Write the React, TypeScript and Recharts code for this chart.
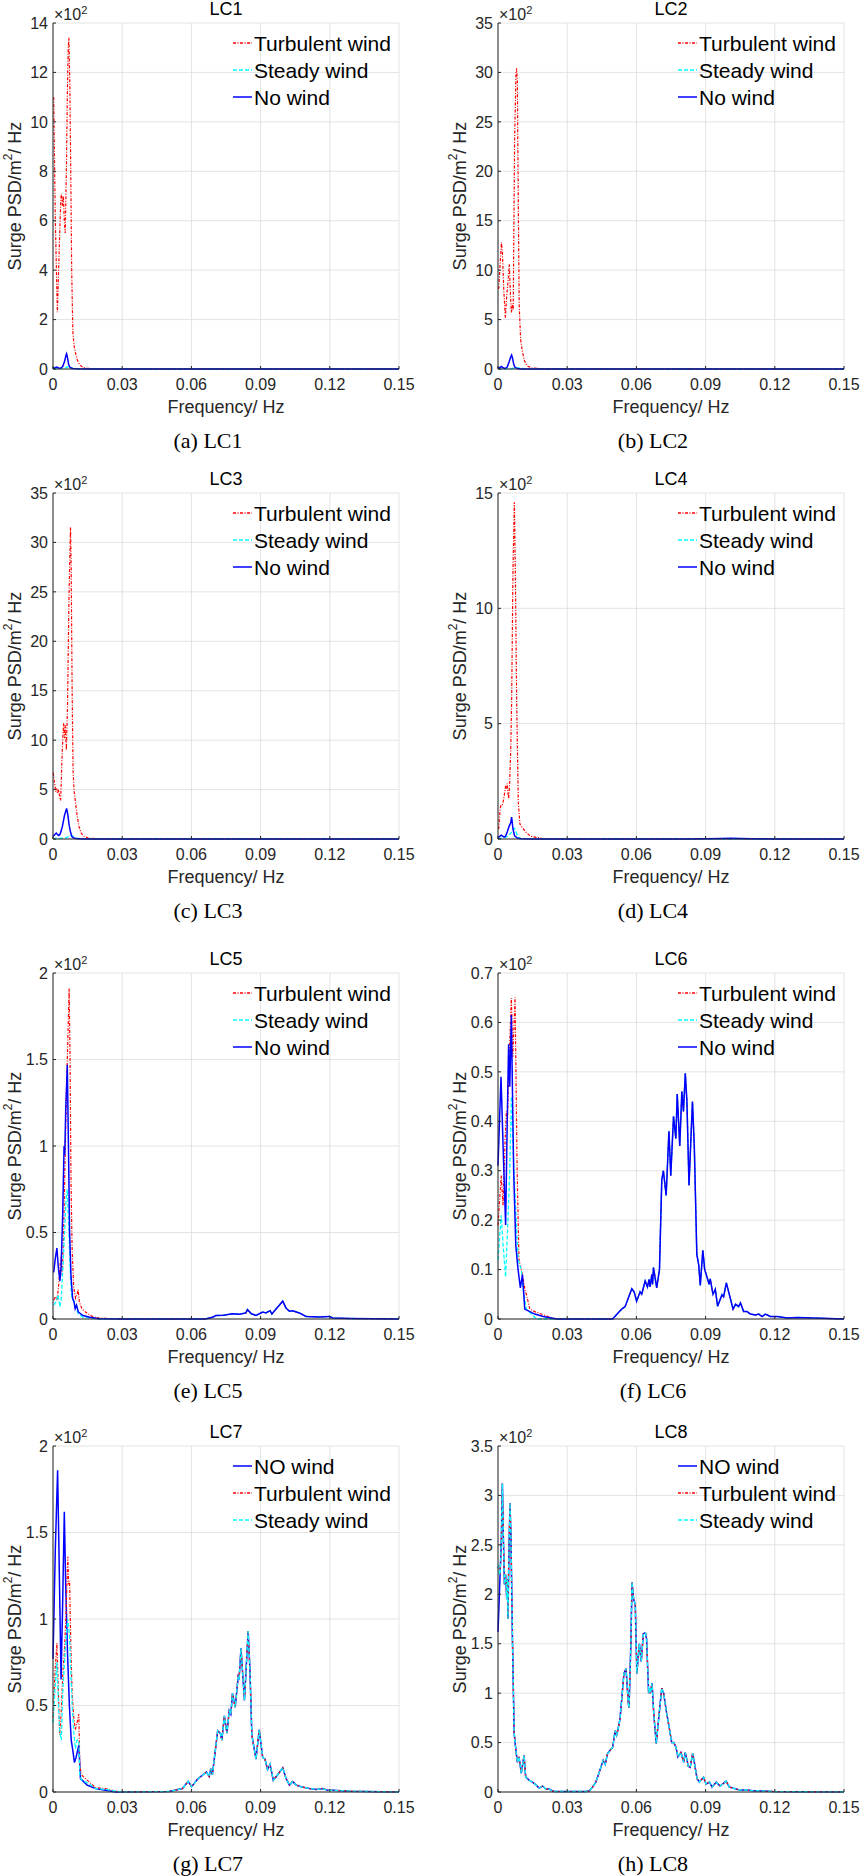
import React from "react";
import { LineChart, Line, XAxis, YAxis, CartesianGrid, Label, Legend } from "recharts";

type Pt = [number, number];

// frequency (Hz), PSD (x10^2 m^2/Hz)
const lc1Turbulent: Pt[] = [[0.0003, 11.0], [0.001, 6.0], [0.0019, 2.3], [0.0029, 5.5], [0.0034, 6.9], [0.0037, 7.1], [0.0041, 6.6], [0.0045, 7.0], [0.0049, 6.0], [0.0053, 5.5], [0.0058, 8.0], [0.0062, 11.0], [0.0066, 13.0], [0.0069, 13.4], [0.0073, 11.5], [0.0077, 8.0], [0.0081, 4.0], [0.0086, 1.5], [0.0092, 0.9], [0.0099, 0.6], [0.0106, 0.35], [0.0115, 0.18], [0.0127, 0.08], [0.0145, 0.03], [0.018, 0.01], [0.03, 0], [0.15, 0]];
const lc1Steady: Pt[] = [[0, 0.01], [0.002, 0.02], [0.004, 0.03], [0.0055, 0.06], [0.0065, 0.1], [0.0072, 0.06], [0.008, 0.03], [0.01, 0.01], [0.015, 0], [0.15, 0]];
const lc1NoWind: Pt[] = [[0, 0.03], [0.0008, 0.05], [0.0016, 0.08], [0.0024, 0.04], [0.0032, 0.03], [0.0042, 0.1], [0.005, 0.3], [0.0056, 0.55], [0.0059, 0.62], [0.0063, 0.45], [0.0068, 0.18], [0.0074, 0.06], [0.0085, 0.02], [0.01, 0.01], [0.015, 0], [0.15, 0]];

const lc2Turbulent: Pt[] = [[0.0003, 8.1], [0.0009, 10.5], [0.0015, 12.8], [0.0019, 11.8], [0.0025, 8.0], [0.0032, 5.2], [0.0038, 7.5], [0.0044, 9.0], [0.0049, 10.6], [0.0054, 7.5], [0.0058, 5.7], [0.0062, 6.5], [0.0066, 6.0], [0.0072, 23], [0.0078, 30], [0.0081, 30.4], [0.0084, 29], [0.0088, 17], [0.0092, 6.4], [0.0098, 3.0], [0.0105, 1.85], [0.0115, 0.8], [0.0127, 0.3], [0.0149, 0.1], [0.02, 0.02], [0.03, 0], [0.15, 0]];
const lc2Steady: Pt[] = [[0, 0.02], [0.003, 0.02], [0.006, 0.05], [0.0085, 0.12], [0.0095, 0.08], [0.011, 0.03], [0.015, 0], [0.15, 0]];
const lc2NoWind: Pt[] = [[0, 0.1], [0.0008, 0.15], [0.0015, 0.25], [0.0022, 0.12], [0.003, 0.05], [0.004, 0.2], [0.0048, 0.7], [0.0055, 1.2], [0.0059, 1.4], [0.0063, 1.1], [0.0068, 0.5], [0.0074, 0.15], [0.0085, 0.04], [0.01, 0.01], [0.015, 0], [0.15, 0]];

const lc3Turbulent: Pt[] = [[0.0001, 6.7], [0.0006, 5.8], [0.0012, 4.8], [0.0016, 5.1], [0.002, 4.6], [0.0024, 5.0], [0.0028, 4.4], [0.0033, 3.9], [0.0038, 7.5], [0.0043, 10.5], [0.0046, 11.7], [0.005, 10.2], [0.0053, 11.5], [0.0058, 9.0], [0.0063, 13.7], [0.0069, 24], [0.0074, 29.6], [0.0076, 31.5], [0.0079, 27], [0.0083, 15], [0.0087, 7], [0.0091, 5.0], [0.0097, 3.8], [0.0104, 2.5], [0.0112, 1.3], [0.0122, 0.6], [0.0135, 0.25], [0.0155, 0.08], [0.02, 0.02], [0.03, 0], [0.15, 0]];
const lc3Steady: Pt[] = [[0, 0.05], [0.003, 0.05], [0.006, 0.15], [0.0075, 0.35], [0.0085, 0.3], [0.0095, 0.15], [0.011, 0.05], [0.015, 0], [0.15, 0]];
const lc3NoWind: Pt[] = [[0, 0.27], [0.0008, 0.45], [0.0014, 0.6], [0.0019, 0.45], [0.0025, 0.35], [0.0031, 0.5], [0.004, 1.2], [0.005, 2.4], [0.0059, 3.1], [0.0064, 2.5], [0.007, 1.4], [0.0076, 0.7], [0.0082, 0.25], [0.009, 0.1], [0.01, 0.05], [0.013, 0.01], [0.02, 0], [0.15, 0]];

const lc4Turbulent: Pt[] = [[0.0003, 0.43], [0.0009, 1.3], [0.0014, 1.5], [0.0019, 1.5], [0.0023, 1.65], [0.0029, 2.0], [0.0033, 2.3], [0.0037, 2.15], [0.004, 2.4], [0.0043, 2.0], [0.0046, 1.75], [0.005, 2.3], [0.0055, 3.8], [0.0059, 5.9], [0.0065, 11.7], [0.0071, 14.6], [0.0075, 11.7], [0.0081, 5.9], [0.0088, 1.6], [0.0095, 0.65], [0.0105, 0.5], [0.012, 0.3], [0.0141, 0.12], [0.0192, 0.02], [0.03, 0], [0.15, 0]];
const lc4Steady: Pt[] = [[0, 0.03], [0.002, 0.04], [0.004, 0.1], [0.0058, 0.28], [0.0066, 0.38], [0.0072, 0.46], [0.0077, 0.35], [0.0081, 0.22], [0.009, 0.06], [0.01, 0.02], [0.013, 0.005], [0.02, 0], [0.15, 0]];
const lc4NoWind: Pt[] = [[0, 0.05], [0.0008, 0.12], [0.0014, 0.17], [0.002, 0.13], [0.0026, 0.08], [0.0033, 0.12], [0.004, 0.3], [0.0048, 0.55], [0.0055, 0.7], [0.0059, 0.95], [0.0065, 0.43], [0.0072, 0.14], [0.0084, 0.04], [0.01, 0.01], [0.015, 0], [0.08, 0], [0.09, 0.01], [0.097, 0.025], [0.101, 0.03], [0.105, 0.02], [0.11, 0.01], [0.12, 0], [0.15, 0]];

const lc5TurbulentLow: Pt[] = [[0.0003, 0.11], [0.0012, 0.13], [0.0018, 0.11], [0.0025, 0.2], [0.0032, 0.33], [0.0036, 0.36], [0.004, 0.25], [0.0046, 0.5], [0.0052, 0.9], [0.0058, 1.3], [0.0064, 1.6], [0.007, 1.91], [0.0074, 1.5], [0.0078, 0.8], [0.0083, 0.4], [0.009, 0.18], [0.0098, 0.12], [0.0104, 0.14], [0.0109, 0.17], [0.0114, 0.1], [0.0125, 0.06], [0.0141, 0.04], [0.017, 0.015], [0.02, 0.005]];
const lc5SteadyLow: Pt[] = [[0.0003, 0.08], [0.0013, 0.1], [0.0022, 0.14], [0.003, 0.07], [0.0036, 0.12], [0.0043, 0.3], [0.005, 0.5], [0.0057, 0.7], [0.0062, 0.75], [0.0068, 0.55], [0.0074, 0.3], [0.008, 0.14], [0.0086, 0.11], [0.0092, 0.1], [0.01, 0.06], [0.011, 0.03], [0.013, 0.01], [0.02, 0]];
const lc5NoWindLow: Pt[] = [[0.0003, 0.27], [0.001, 0.35], [0.0017, 0.41], [0.0023, 0.3], [0.003, 0.22], [0.0035, 0.3], [0.0042, 0.6], [0.0048, 1.0], [0.0051, 0.95], [0.0055, 1.2], [0.0062, 1.47], [0.0067, 1.0], [0.0072, 0.5], [0.0078, 0.25], [0.0085, 0.12], [0.0091, 0.1], [0.0096, 0.06], [0.0102, 0.08], [0.011, 0.04], [0.013, 0.02], [0.016, 0.01], [0.02, 0.002]];
const lc5Wave: Pt[] = [[0.03, 0], [0.066, 0], [0.0691, 0.01], [0.0706, 0.02], [0.074, 0.022], [0.0778, 0.03], [0.081, 0.028], [0.0836, 0.035], [0.0843, 0.054], [0.086, 0.03], [0.088, 0.021], [0.0909, 0.04], [0.0923, 0.035], [0.0941, 0.048], [0.0949, 0.029], [0.0967, 0.058], [0.0996, 0.103], [0.101, 0.064], [0.1025, 0.045], [0.1039, 0.048], [0.1068, 0.035], [0.1097, 0.015], [0.1155, 0.012], [0.1199, 0.015], [0.1213, 0.006], [0.1286, 0.003], [0.15, 0]];

const lc6TurbulentLow: Pt[] = [[0, 0.19], [0.0014, 0.29], [0.0022, 0.23], [0.003, 0.35], [0.0036, 0.42], [0.0041, 0.4], [0.0046, 0.5], [0.0058, 0.649], [0.0064, 0.53], [0.0074, 0.651], [0.0083, 0.3], [0.0091, 0.12], [0.0106, 0.09], [0.0119, 0.054], [0.0123, 0.05], [0.0138, 0.02], [0.0159, 0.015], [0.0217, 0.005], [0.0254, 0]];
const lc6SteadyLow: Pt[] = [[0, 0.12], [0.0014, 0.21], [0.0022, 0.15], [0.0033, 0.085], [0.0043, 0.2], [0.0051, 0.3], [0.0058, 0.45], [0.0065, 0.35], [0.0074, 0.25], [0.0087, 0.12], [0.0101, 0.1], [0.0109, 0.06], [0.0123, 0.02], [0.0167, 0], [0.0254, 0]];
const lc6NoWindLow: Pt[] = [[0, 0.31], [0.0013, 0.49], [0.0022, 0.35], [0.0033, 0.19], [0.004, 0.4], [0.0046, 0.556], [0.0051, 0.47], [0.0058, 0.615], [0.0063, 0.45], [0.0068, 0.3], [0.0077, 0.15], [0.0087, 0.1], [0.0097, 0.063], [0.0106, 0.09], [0.0116, 0.02], [0.0138, 0.015], [0.0159, 0.01], [0.0196, 0.005], [0.0254, 0]];
const lc6Wave: Pt[] = [[0.03, 0], [0.0497, 0], [0.0536, 0.02], [0.0551, 0.025], [0.058, 0.061], [0.059, 0.055], [0.0601, 0.036], [0.0616, 0.055], [0.0623, 0.05], [0.0638, 0.077], [0.0648, 0.065], [0.0655, 0.08], [0.0659, 0.065], [0.0667, 0.09], [0.067, 0.07], [0.0674, 0.104], [0.0688, 0.063], [0.07, 0.1], [0.071, 0.281], [0.0717, 0.3], [0.0729, 0.25], [0.0741, 0.38], [0.0749, 0.29], [0.0761, 0.41], [0.0771, 0.365], [0.0777, 0.455], [0.0788, 0.35], [0.0797, 0.46], [0.0804, 0.42], [0.0812, 0.497], [0.0819, 0.44], [0.0828, 0.27], [0.0843, 0.44], [0.0851, 0.35], [0.0862, 0.13], [0.087, 0.11], [0.0877, 0.068], [0.0888, 0.139], [0.0896, 0.1], [0.0906, 0.085], [0.0915, 0.07], [0.092, 0.081], [0.0932, 0.05], [0.0942, 0.06], [0.0952, 0.026], [0.0971, 0.049], [0.0978, 0.045], [0.099, 0.073], [0.1, 0.055], [0.1019, 0.02], [0.103, 0.03], [0.1043, 0.025], [0.1051, 0.0325], [0.1065, 0.015], [0.108, 0.015], [0.1094, 0.01], [0.1116, 0.008], [0.113, 0.01], [0.1145, 0.005], [0.1159, 0.01], [0.1181, 0.005], [0.121, 0.005], [0.1254, 0.002], [0.1297, 0.003], [0.137, 0.002], [0.15, 0]];

const lc7NoWindLow: Pt[] = [[0, 0.77], [0.001, 1.4], [0.002, 1.86], [0.0027, 1.3], [0.0035, 0.65], [0.0042, 1.1], [0.0049, 1.62], [0.0055, 1.2], [0.0063, 0.8], [0.0071, 0.5], [0.0079, 0.3], [0.0086, 0.24], [0.0093, 0.17], [0.01, 0.2], [0.0112, 0.27], [0.0119, 0.077], [0.0133, 0.06], [0.0148, 0.04], [0.0184, 0.02], [0.0228, 0.01], [0.0271, 0]];
const lc7TurbulentLow: Pt[] = [[0, 0.43], [0.0009, 0.7], [0.0017, 0.86], [0.0023, 0.6], [0.0029, 0.33], [0.0036, 0.47], [0.0043, 0.7], [0.0049, 0.8], [0.0057, 1.05], [0.0064, 1.36], [0.0068, 1.2], [0.0072, 1.22], [0.0077, 0.86], [0.0083, 0.57], [0.009, 0.43], [0.0097, 0.36], [0.0104, 0.4], [0.0112, 0.45], [0.0116, 0.16], [0.0123, 0.1], [0.0138, 0.08], [0.0155, 0.06], [0.0184, 0.025], [0.0228, 0.02], [0.0271, 0.005]];
const lc7SteadyLow: Pt[] = [[0, 0.4], [0.0009, 0.6], [0.0017, 0.75], [0.0024, 0.5], [0.0029, 0.35], [0.0036, 0.3], [0.0043, 0.6], [0.005, 0.75], [0.0057, 0.9], [0.0064, 1.0], [0.0068, 0.95], [0.0072, 0.9], [0.0077, 0.7], [0.0083, 0.5], [0.009, 0.35], [0.0097, 0.25], [0.0104, 0.3], [0.0112, 0.3], [0.0116, 0.1], [0.0123, 0.07], [0.0138, 0.06], [0.0155, 0.05], [0.0184, 0.02], [0.0228, 0.015], [0.0271, 0.005]];
const lc7Wave: Pt[] = [[0.03, 0], [0.0503, 0.003], [0.0561, 0.02], [0.0586, 0.062], [0.0601, 0.03], [0.0626, 0.073], [0.0651, 0.1], [0.0665, 0.116], [0.0677, 0.09], [0.0684, 0.135], [0.0691, 0.1], [0.0714, 0.354], [0.0725, 0.34], [0.0732, 0.3], [0.0743, 0.44], [0.0754, 0.34], [0.0764, 0.47], [0.0771, 0.45], [0.0778, 0.57], [0.079, 0.49], [0.0803, 0.67], [0.0807, 0.66], [0.0815, 0.83], [0.083, 0.53], [0.0846, 0.93], [0.0854, 0.7], [0.0862, 0.33], [0.088, 0.19], [0.0894, 0.36], [0.0909, 0.2], [0.0919, 0.19], [0.093, 0.13], [0.0941, 0.16], [0.0955, 0.068], [0.0974, 0.1], [0.0996, 0.14], [0.101, 0.08], [0.1025, 0.04], [0.1039, 0.06], [0.1054, 0.04], [0.1075, 0.03], [0.1112, 0.02], [0.1141, 0.015], [0.117, 0.02], [0.1191, 0.01], [0.1213, 0.01], [0.1286, 0.005], [0.1358, 0.003], [0.15, 0]];

const lc8NoWindStart: Pt[] = [[0, 1.62], [0.0006, 2.0]];
const lc8TurbulentStart: Pt[] = [[0, 2.28], [0.0005, 2.25]];
const lc8SteadyStart: Pt[] = [[0, 2.3], [0.0005, 2.2]];
const lc8Body: Pt[] = [[0.0009, 2.2], [0.0014, 2.5], [0.0019, 3.12], [0.0023, 2.6], [0.0028, 2.1], [0.0033, 2.2], [0.0038, 1.95], [0.0041, 2.15], [0.0043, 1.75], [0.0048, 2.5], [0.0052, 2.92], [0.0056, 2.6], [0.0063, 1.5], [0.007, 0.6], [0.0074, 0.5], [0.0084, 0.3], [0.0091, 0.355], [0.0101, 0.19], [0.0113, 0.37], [0.012, 0.15], [0.0135, 0.12], [0.0149, 0.1], [0.0161, 0.08], [0.0178, 0.04], [0.0193, 0.06], [0.0207, 0.03], [0.0222, 0.03], [0.0233, 0.015], [0.0243, 0.005], [0.0381, 0.005], [0.0395, 0.01], [0.041, 0.05], [0.0424, 0.1], [0.0439, 0.2], [0.0456, 0.32], [0.0465, 0.28], [0.0475, 0.39], [0.0489, 0.43], [0.0497, 0.45], [0.0508, 0.62], [0.0514, 0.575], [0.052, 0.63], [0.0529, 0.74], [0.0546, 1.2], [0.0555, 1.25], [0.0565, 0.9], [0.0568, 0.85], [0.0576, 1.5], [0.0581, 2.12], [0.0588, 1.95], [0.0595, 1.9], [0.0602, 1.2], [0.0613, 1.5], [0.0621, 1.32], [0.063, 1.6], [0.0639, 1.61], [0.0644, 1.55], [0.0653, 1.0], [0.0657, 1.05], [0.066, 1.0], [0.0668, 1.1], [0.0675, 0.8], [0.0686, 0.49], [0.0699, 0.8], [0.071, 1.05], [0.0718, 1.0], [0.0731, 0.8], [0.0738, 0.71], [0.0753, 0.5], [0.0762, 0.5], [0.0772, 0.45], [0.078, 0.355], [0.0793, 0.4], [0.0805, 0.3], [0.0812, 0.4], [0.0825, 0.26], [0.0833, 0.25], [0.0844, 0.39], [0.0851, 0.3], [0.0863, 0.135], [0.0873, 0.1], [0.0891, 0.15], [0.0902, 0.08], [0.0917, 0.1], [0.0928, 0.05], [0.0946, 0.1], [0.0963, 0.06], [0.0989, 0.11], [0.1003, 0.05], [0.1018, 0.04], [0.1047, 0.02], [0.1076, 0.02], [0.1119, 0.01], [0.1148, 0.01], [0.1192, 0.005], [0.1293, 0.003], [0.15, 0]];

const freqTicks = [0, 0.03, 0.06, 0.09, 0.12, 0.15];
const ticksLC1 = [0, 2, 4, 6, 8, 10, 12, 14];
const ticks35 = [0, 5, 10, 15, 20, 25, 30, 35];
const ticksLC4 = [0, 5, 10, 15];
const ticks2 = [0, 0.5, 1, 1.5, 2];
const ticksLC6 = [0, 0.1, 0.2, 0.3, 0.4, 0.5, 0.6, 0.7];
const ticksLC8 = [0, 0.5, 1, 1.5, 2, 2.5, 3, 3.5];

const FONT = "'Liberation Sans', Arial, Helvetica, sans-serif";
const AXIS = "#262626";
const RED = "#ff0000";
const CYAN = "#00ffff";
const BLUE = "#0000ff";
const RED_DASH = "3 1.5 1 1.5";
const CYAN_DASH = "4 2";

// layout
const PLOT_W = 346;
const PLOT_H = 346;
const COL_X = [53, 498];
const ROW_Y = [23, 493, 973, 1446];
const PAD_L = 60;
const PAD_T = 30;
const PAD_R = 17;
const X_H = 30;
const PAD_B = 70;
const CHART_W = PAD_L + PLOT_W + PAD_R;
const CHART_H = PAD_T + PLOT_H + X_H + PAD_B;

interface Series {
  name: string;
  color: string;
  width: number;
  dash?: string;
  points: Pt[];
}

interface PanelDef {
  title: string;
  caption: string;
  col: number;
  row: number;
  yTicks: number[];
  series: Series[];
}

const turb = (points: Pt[]): Series => ({ name: "Turbulent wind", color: RED, width: 1.2, dash: RED_DASH, points });
const steady = (points: Pt[]): Series => ({ name: "Steady wind", color: CYAN, width: 1.3, dash: CYAN_DASH, points });
const noWind = (points: Pt[], name = "No wind"): Series => ({ name, color: BLUE, width: 1.5, points });

const panels: PanelDef[] = [
  { title: "LC1", caption: "(a) LC1", col: 0, row: 0, yTicks: ticksLC1, series: [turb(lc1Turbulent), steady(lc1Steady), noWind(lc1NoWind)] },
  { title: "LC2", caption: "(b) LC2", col: 1, row: 0, yTicks: ticks35, series: [turb(lc2Turbulent), steady(lc2Steady), noWind(lc2NoWind)] },
  { title: "LC3", caption: "(c) LC3", col: 0, row: 1, yTicks: ticks35, series: [turb(lc3Turbulent), steady(lc3Steady), noWind(lc3NoWind)] },
  { title: "LC4", caption: "(d) LC4", col: 1, row: 1, yTicks: ticksLC4, series: [turb(lc4Turbulent), steady(lc4Steady), noWind(lc4NoWind)] },
  {
    title: "LC5", caption: "(e) LC5", col: 0, row: 2, yTicks: ticks2,
    series: [turb([...lc5TurbulentLow, ...lc5Wave]), steady([...lc5SteadyLow, ...lc5Wave]), noWind([...lc5NoWindLow, ...lc5Wave])],
  },
  {
    title: "LC6", caption: "(f) LC6", col: 1, row: 2, yTicks: ticksLC6,
    series: [turb([...lc6TurbulentLow, ...lc6Wave]), steady([...lc6SteadyLow, ...lc6Wave]), noWind([...lc6NoWindLow, ...lc6Wave])],
  },
  {
    title: "LC7", caption: "(g) LC7", col: 0, row: 3, yTicks: ticks2,
    series: [noWind([...lc7NoWindLow, ...lc7Wave], "NO wind"), turb([...lc7TurbulentLow, ...lc7Wave]), steady([...lc7SteadyLow, ...lc7Wave])],
  },
  {
    title: "LC8", caption: "(h) LC8", col: 1, row: 3, yTicks: ticksLC8,
    series: [noWind([...lc8NoWindStart, ...lc8Body], "NO wind"), turb([...lc8TurbulentStart, ...lc8Body]), steady([...lc8SteadyStart, ...lc8Body])],
  },
];

const toRows = (pts: Pt[]) => pts.map(([f, v]) => ({ f, v }));

const yLabel = (props: any) => {
  const vb = props.viewBox || {};
  const cx = vb.x + vb.width - 38;
  const cy = vb.y + vb.height / 2;
  return (
    <text x={cx} y={cy} transform={`rotate(-90 ${cx} ${cy})`} textAnchor="middle" dominantBaseline="central" fontSize={18} fill={AXIS} fontFamily={FONT}>
      Surge PSD/m<tspan dy={-7} fontSize={12}>2</tspan>
      <tspan dy={7}>/ Hz</tspan>
    </text>
  );
};

const xLabel = (props: any) => {
  const vb = props.viewBox || {};
  return (
    <text x={vb.x + vb.width / 2} y={vb.y + 44} textAnchor="middle" fontSize={18} fill={AXIS} fontFamily={FONT}>
      Frequency/ Hz
    </text>
  );
};

function LegendBox({ series }: { series: Series[] }) {
  return (
    <div style={{ fontFamily: FONT, fontSize: 21, color: "#000", lineHeight: "27px" }}>
      {series.map((s) => (
        <div key={s.name} style={{ display: "flex", alignItems: "center", whiteSpace: "nowrap" }}>
          <svg width={20} height={10} style={{ marginRight: 1 }}>
            <line x1={0} x2={19} y1={5} y2={5} stroke={s.color} strokeWidth={1.5} strokeDasharray={s.dash} />
          </svg>
          <span>{s.name}</span>
        </div>
      ))}
    </div>
  );
}

function Panel({ def }: { def: PanelDef }) {
  const left = COL_X[def.col] - PAD_L;
  const top = ROW_Y[def.row] - PAD_T;
  const yMax = def.yTicks[def.yTicks.length - 1];
  const tickStyle = { fontSize: 16, fill: AXIS, fontFamily: FONT };

  return (
    <div style={{ position: "absolute", left, top, width: CHART_W, height: CHART_H }}>
      <LineChart width={CHART_W} height={CHART_H} margin={{ top: PAD_T, right: PAD_R, bottom: PAD_B, left: 0 }}>
        <CartesianGrid stroke="#dcdcdc" strokeWidth={0.8} />
        <XAxis
          dataKey="f"
          type="number"
          domain={[0, 0.15]}
          ticks={freqTicks}
          interval={0}
          height={X_H}
          stroke={AXIS}
          tickSize={-3}
          tickMargin={13}
          tick={tickStyle}
        >
          <Label content={xLabel} />
        </XAxis>
        <XAxis xAxisId="top" orientation="top" type="number" domain={[0, 0.15]} ticks={freqTicks} interval={0} height={0} stroke={AXIS} tickSize={-3} tick={false} />
        <YAxis type="number" domain={[0, yMax]} ticks={def.yTicks} interval={0} width={PAD_L} stroke={AXIS} tickSize={-3} tickMargin={8} tick={tickStyle}>
          <Label content={yLabel} />
        </YAxis>
        <YAxis yAxisId="right" orientation="right" type="number" domain={[0, yMax]} ticks={def.yTicks} interval={0} width={0} stroke={AXIS} tickSize={-3} tick={false} />
        {def.series.map((s) => (
          <Line
            key={s.name}
            data={toRows(s.points)}
            dataKey="v"
            name={s.name}
            type="linear"
            stroke={s.color}
            strokeWidth={s.width}
            strokeDasharray={s.dash}
            dot={false}
            activeDot={false}
            isAnimationActive={false}
          />
        ))}
        <Legend
          layout="vertical"
          align="center"
          verticalAlign="middle"
          wrapperStyle={{ left: PAD_L + 180, top: PAD_T + 20 - 13.5, width: "auto" }}
          content={() => <LegendBox series={def.series} />}
        />
      </LineChart>
      <div style={{ position: "absolute", left: PAD_L, width: PLOT_W, top: PAD_T - 24, lineHeight: "20px", textAlign: "center", fontFamily: FONT, fontSize: 18, color: "#000" }}>
        {def.title}
      </div>
      <div style={{ position: "absolute", left: PAD_L + 1, top: PAD_T - 17, lineHeight: "18px", fontFamily: FONT, fontSize: 16, color: AXIS, whiteSpace: "nowrap" }}>
        ×10<span style={{ position: "relative", top: -6, fontSize: 11 }}>2</span>
      </div>
      <div style={{ position: "absolute", left: PAD_L + PLOT_W / 2 - 18 - 100, width: 200, top: PAD_T + PLOT_H + 72 - 13, lineHeight: "26px", textAlign: "center", fontFamily: "'Liberation Serif', 'Times New Roman', serif", fontSize: 22, color: "#000" }}>
        {def.caption}
      </div>
    </div>
  );
}

export default function App() {
  return (
    <div style={{ position: "absolute", left: 0, top: 0, width: 861, height: 1876, overflow: "hidden", background: "#fff" }}>
      {panels.map((p) => (
        <Panel key={p.title} def={p} />
      ))}
    </div>
  );
}
